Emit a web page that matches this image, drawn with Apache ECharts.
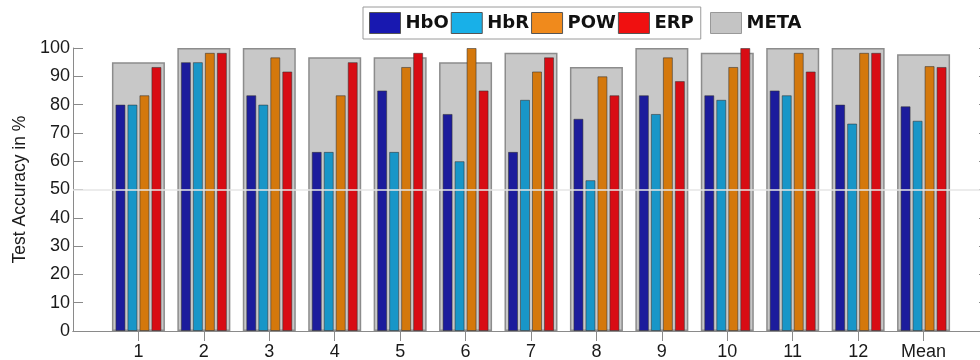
<!DOCTYPE html>
<html>
<head>
<meta charset="utf-8">
<script src="https://cdn.jsdelivr.net/npm/echarts@6/dist/echarts.min.js"></script>
<style>
  html, body { margin: 0; padding: 0; background: #fff; }
  #chart { width: 980px; height: 360px; }
</style>
</head>
<body>
<div id="chart"></div>
<script>
// Subject labels, padded with an empty slot at each end so the axis runs 0..14
const categories = ['', '1', '2', '3', '4', '5', '6', '7', '8', '9', '10', '11', '12', 'Mean', ''];

// Test accuracy (%) per subject, then the mean
const hbo  = [80.0, 95.0, 83.3, 63.3, 85.0, 76.7, 63.3, 75.0, 83.3, 83.3, 85.0, 80.0, 79.4];
const hbr  = [80.0, 95.0, 80.0, 63.3, 63.3, 60.0, 81.7, 53.3, 76.7, 81.7, 83.3, 73.3, 74.3];
const pow  = [83.3, 98.3, 96.7, 83.3, 93.3, 100.0, 91.7, 90.0, 96.7, 93.3, 98.3, 98.3, 93.6];
const erp  = [93.3, 98.3, 91.7, 95.0, 98.3, 85.0, 96.7, 83.3, 88.3, 100.0, 91.7, 98.3, 93.3];
const meta = [95.0, 100.0, 100.0, 96.7, 96.7, 95.0, 98.3, 93.3, 100.0, 98.3, 100.0, 100.0, 97.8];

const yTicks = [0, 10, 20, 30, 40, 50, 60, 70, 80, 90, 100];

// pad a per-subject array so it lines up with the padded category list
const pad = arr => [null, ...arr, null];

const axisGray = '#8a8a8a';
const labelFont = 'Liberation Sans, Arial, sans-serif';
const legendFont = 'DejaVu Sans, Verdana, sans-serif';
const barBorder = 'rgba(50,50,50,0.55)';

const tickOnSubjects = idx => idx >= 1 && idx <= 13;

const chart = echarts.init(document.getElementById('chart'), null, { renderer: 'canvas' });

chart.setOption({
  animation: false,
  backgroundColor: '#ffffff',
  // the plot box runs a little past the right edge of the canvas
  grid: { left: 73, top: 48, right: -9, bottom: 29, containLabel: false, outerBoundsMode: 'none' },
  legend: [
    {
      left: 363, top: 7,
      padding: [5, 7, 5, 6],
      itemGap: 2,
      itemWidth: 31, itemHeight: 21,
      borderColor: '#9a9a9a', borderWidth: 1,
      textStyle: { fontFamily: legendFont, fontWeight: 'bold', fontSize: 18, color: '#111' },
      selectedMode: false,
      data: [
        { name: 'HbO', icon: 'rect', itemStyle: { color: '#1818b0', borderColor: '#555', borderWidth: 1 } },
        { name: 'HbR', icon: 'rect', itemStyle: { color: '#18b0e8', borderColor: '#555', borderWidth: 1 } },
        { name: 'POW', icon: 'rect', itemStyle: { color: '#f08a1c', borderColor: '#555', borderWidth: 1 } },
        { name: 'ERP', icon: 'rect', itemStyle: { color: '#f01010', borderColor: '#555', borderWidth: 1 } }
      ]
    },
    {
      left: 710, top: 12,
      padding: 0,
      itemWidth: 31, itemHeight: 21,
      textStyle: { fontFamily: legendFont, fontWeight: 'bold', fontSize: 18, color: '#111' },
      selectedMode: false,
      data: [
        { name: 'META', icon: 'rect', itemStyle: { color: '#c4c4c4', borderColor: '#999', borderWidth: 1 } }
      ]
    }
  ],
  xAxis: [
    {
      type: 'category', position: 'bottom', data: categories, boundaryGap: false,
      axisLine: { lineStyle: { color: axisGray, width: 1 } },
      axisTick: { inside: true, length: 10, interval: tickOnSubjects, lineStyle: { color: axisGray } },
      axisLabel: { interval: 0, margin: 12, fontFamily: labelFont, fontSize: 18, color: '#1a1a1a' },
      splitLine: { show: false }
    },
    {
      type: 'category', position: 'top', data: categories, boundaryGap: false,
      axisLine: { lineStyle: { color: axisGray, width: 1 } },
      axisTick: { inside: true, length: 10, interval: tickOnSubjects, lineStyle: { color: axisGray } },
      axisLabel: { show: false },
      splitLine: { show: false }
    }
  ],
  yAxis: [
    {
      type: 'value', position: 'left', min: yTicks[0], max: yTicks[yTicks.length - 1], interval: 10,
      name: 'Test Accuracy in %', nameLocation: 'middle', nameGap: 42, nameRotate: 90,
      nameTextStyle: { fontFamily: labelFont, fontSize: 17.5, color: '#1a1a1a' },
      axisLine: { show: true, lineStyle: { color: axisGray, width: 1 } },
      axisTick: { show: true, inside: true, length: 10, lineStyle: { color: axisGray } },
      axisLabel: { margin: 3, fontFamily: labelFont, fontSize: 18, color: '#1a1a1a' },
      splitLine: { show: false }
    },
    {
      type: 'value', position: 'right', min: yTicks[0], max: yTicks[yTicks.length - 1], interval: 10,
      axisLine: { show: true, lineStyle: { color: axisGray, width: 1 } },
      axisTick: { show: true, inside: true, length: 10, lineStyle: { color: axisGray } },
      axisLabel: { show: false },
      splitLine: { show: false }
    }
  ],
  series: [
    {
      name: 'META', type: 'bar', xAxisIndex: 0, yAxisIndex: 0,
      data: pad(meta), barWidth: 53, z: 1,
      itemStyle: { color: '#c8c8c8', borderColor: '#8c8c8c', borderWidth: 1.5 }
    },
    {
      name: 'HbO', type: 'bar', xAxisIndex: 1, yAxisIndex: 0,
      data: pad(hbo), barWidth: 10, barGap: '20%', z: 2,
      itemStyle: { color: '#1c1c9c', borderColor: barBorder, borderWidth: 1 }
    },
    {
      name: 'HbR', type: 'bar', xAxisIndex: 1, yAxisIndex: 0,
      data: pad(hbr), barWidth: 10, barGap: '20%', z: 2,
      itemStyle: { color: '#1896c8', borderColor: barBorder, borderWidth: 1 }
    },
    {
      name: 'POW', type: 'bar', xAxisIndex: 1, yAxisIndex: 0,
      data: pad(pow), barWidth: 10, barGap: '20%', z: 2,
      itemStyle: { color: '#d4780c', borderColor: barBorder, borderWidth: 1 }
    },
    {
      name: 'ERP', type: 'bar', xAxisIndex: 1, yAxisIndex: 0,
      data: pad(erp), barWidth: 10, barGap: '20%', z: 2,
      itemStyle: { color: '#d80c14', borderColor: barBorder, borderWidth: 1 },
      markLine: {
        silent: true, symbol: 'none', z: 5,
        label: { show: false },
        lineStyle: { color: '#e6e6e6', type: 'solid', width: 1.5 },
        data: [{ yAxis: 50 }]
      }
    }
  ]
});
</script>
</body>
</html>
